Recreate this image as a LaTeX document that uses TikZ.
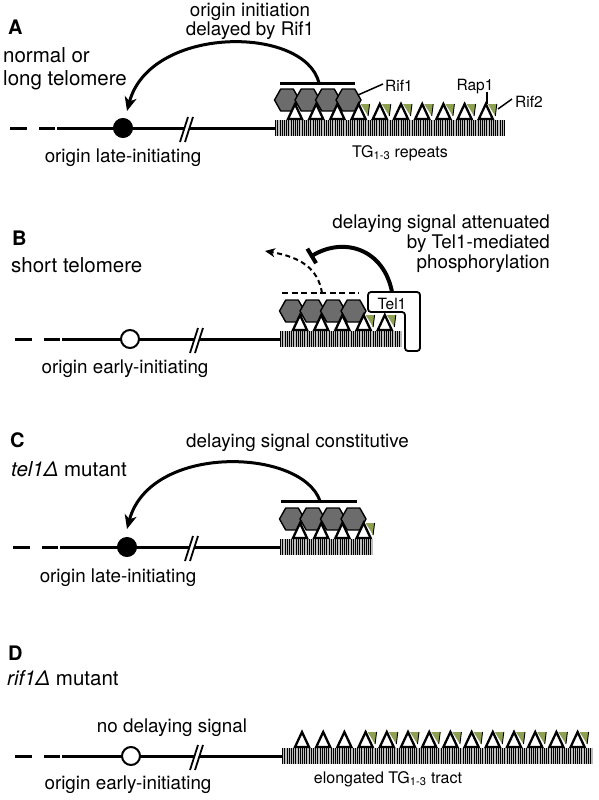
\documentclass[tikz,border=0pt]{standalone}
\usepackage{fontspec}
\setmainfont{TeX Gyre Heros}
\usetikzlibrary{arrows.meta}
\definecolor{hexgray}{RGB}{108,108,108}
\definecolor{rifgreen}{RGB}{142,160,82}
\definecolor{barbg}{RGB}{190,190,190}
\newcommand{\mainsz}{\fontsize{18.8}{22}\selectfont}
\newcommand{\subsz}{\fontsize{20.5}{24}\selectfont}
\newcommand{\smallsz}{\fontsize{15.5}{18}\selectfont}
\newcommand{\tgsz}{\fontsize{16}{19}\selectfont}
\newcommand{\panelsz}{\fontsize{20}{24}\selectfont\bfseries}
% one hexagon (Rif1)
\newcommand{\hexcell}[2]{\draw[hexcellst] (#1-12.5,#2) -- (#1-6.3,#2-11) -- (#1+6.3,#2-11) -- (#1+12.5,#2) -- (#1+6.3,#2+11) -- (#1-6.3,#2+11) -- cycle;}
% row of hexagons: x0 of bar, y centre, count
\newcommand{\hexrow}[3]{\foreach \h in {1,...,#3}{\pgfmathsetmacro\hx{#1+12+(\h-1)*20.5}\hexcell{\hx}{#2}}}
% Rap1 triangle: apex x, base y
\newcommand{\raptri}[2]{\draw[rapst] (#1,#2-15) -- (#1+7,#2) -- (#1-7,#2) -- cycle;}
% Rif2 wedge: apex x of Rap1, base y
\newcommand{\riftwo}[2]{\fill[rif2st] (#1+2,#2-15) -- (#1+11,#2-15) -- (#1+9.5,#2-3) -- cycle;
  \draw[line width=0.9pt] (#1+11,#2-15) -- (#1+9.5,#2-3);}
% repeats bar: x0, chrom y, length
\newcommand{\repeatsbar}[5]{%
  \fill[barbg] (#1,#2-8) rectangle (#1+#3,#2+8);
  \pgfmathtruncatemacro\nl{(#3-1.2)/2.2}
  \foreach \k in {0,...,\nl} \draw[hatch] (#1+0.6+\k*2.2,#2-8) -- (#1+0.6+\k*2.2,#2+8);
}
\newcommand{\rapset}[4]{% x0, chrom y, n, first green
  \foreach \t in {1,...,#3}{\pgfmathsetmacro\tx{#1+20+(\t-1)*21.2}
    \ifnum\t<#4\relax\else\riftwo{\tx}{#2-9}\fi
    \raptri{\tx}{#2-9}}}
% chromosome: y, x shift, break x, end x
\newcommand{\chromo}[4]{%
  \draw[chrom] (#2+15,#1) -- (#2+32,#1);
  \draw[chrom] (#2+44,#1) -- (#2+60,#1);
  \draw[chrom] (#2+62,#1) -- (#4,#1);
  \fill[white] (#3-7,#1+14) -- (#3+1,#1-11) -- (#3+6,#1-11) -- (#3-2,#1+14) -- cycle;
  \draw[brkline] (#3-7,#1+14) -- (#3+1,#1-11);
  \draw[brkline] (#3-2,#1+14) -- (#3+6,#1-11);}
\begin{document}
\begin{tikzpicture}[x=1pt,y=-1pt,
  chrom/.style={line width=3pt},
  brkline/.style={line width=1.8pt},
  hexcellst/.style={fill=hexgray,draw=black,line width=1.4pt,line join=round},
  rapst/.style={fill=white,draw=black,line width=2.3pt,line join=miter},
  rif2st/.style={fill=rifgreen},
  hatch/.style={line width=0.7pt,black},
  sigbar/.style={line width=3pt},
  sig/.style={line width=3pt,-{Stealth[length=14pt,width=12pt,inset=4pt]}},
  sigdash/.style={line width=2pt,dash pattern=on 5pt off 3.5pt,-{Stealth[length=10pt,width=9pt,inset=3pt]}},
  block/.style={line width=4pt,-{Bar[width=17pt]}},
  late/.style={circle,fill=black,draw=black,line width=1pt,minimum size=19pt,inner sep=0pt},
  early/.style={circle,fill=white,draw=black,line width=2pt,minimum size=18pt,inner sep=0pt},
  telbox/.style={draw=black,fill=white,line width=1.8pt,rounded corners=3pt},
  lbl/.style={font=\mainsz,inner sep=0pt},
  sub/.style={font=\subsz,inner sep=0pt,anchor=base west},
  small/.style={font=\smallsz,inner sep=0pt},
  tg/.style={font=\tgsz,inner sep=0pt,anchor=base},
  panel/.style={font=\panelsz,inner sep=0pt,anchor=base west},
  leader/.style={line width=1.5pt}]
\useasboundingbox (0,0) rectangle (598,800);

% ================= A =================
\node[panel] (pA) at (8,35) {A};
\node[sub] (sA1) at (3,63) {normal or};
\node[sub] (sA2) at (3,85) {long telomere};
\node[lbl,anchor=base] (tA1) at (250,17) {origin initiation};
\node[lbl,anchor=base] (tA2) at (250,36) {delayed by Rif1};
\chromo{128}{-5}{187}{276}
\node[late] (oA) at (123,128) {};
\node[lbl,anchor=base] (oAt) at (123,162) {origin late-initiating};
\repeatsbar{275}{128}{230}{10}{4}
\hexrow{275}{100}{4}
\rapset{275}{128}{10}{4}
\coordinate (bA1) at (280,83);
\coordinate (bA2) at (355,83);
\draw[sigbar] (bA1) -- (bA2);
\coordinate (sA) at (319,83);
\coordinate (tipA) at (127,111);
\draw[sig] (sA) .. controls (305,25) and (150,25) .. (tipA);
\node[small,anchor=base west] (rif1) at (385,91) {Rif1};
\coordinate (r1a) at (358,95);
\coordinate (r1b) at (383,84);
\draw[leader] (r1a) -- (r1b);
\node[small,anchor=base] (rap1) at (475,90) {Rap1};
\coordinate (ra1) at (487,92);
\coordinate (ra2) at (487,104);
\draw[leader] (ra1) -- (ra2);
\node[small,anchor=base west] (rif2) at (515,107) {Rif2};
\coordinate (rf1) at (498,109);
\coordinate (rf2) at (512,99);
\draw[leader] (rf1) -- (rf2);
\node[tg] (tgA) at (400,157) {TG\textsubscript{1-3} repeats};

% ================= B =================
\node[panel] (pB) at (12,245) {B};
\node[sub] (sB1) at (11,272) {short telomere};
\node[lbl,anchor=base east] (tB1) at (550,228) {delaying signal attenuated};
\node[lbl,anchor=base east] (tB2) at (550,248) {by Tel1-mediated};
\node[lbl,anchor=base east] (tB3) at (550,268) {phosphorylation};
\chromo{339}{0}{197}{281}
\node[early] (oB) at (130,339) {};
\node[lbl,anchor=base] (oBt) at (125,373) {origin early-initiating};
\repeatsbar{280}{339}{122}{5}{4}
\hexrow{280}{311}{4}
\rapset{280}{339}{5}{4}
\coordinate (bB1) at (282,293);
\coordinate (bB2) at (359,293);
\draw[line width=2.2pt,dash pattern=on 6pt off 3.5pt] (bB1) -- (bB2);
\coordinate (sB) at (322,293);
\coordinate (tipB) at (265,251);
\draw[sigdash] (sB) .. controls (318,268) and (300,257) .. (tipB);
\draw[telbox] (368,292) -- (420,292) -- (420,351) -- (405,351) -- (405,312) -- (368,312) -- cycle;
\node[small] (tel1) at (392,304) {Tel1};
\coordinate (sT) at (392,292);
\coordinate (tipT) at (310,257);
\draw[block] (sT) .. controls (384,250) and (345,236) .. (tipT);

% ================= C =================
\node[panel] (pC) at (10,447) {C};
\node[sub] (sC1) at (11,476) {{\itshape tel1Δ} mutant};
\node[lbl,anchor=base west] (tC) at (186,447) {delaying signal constitutive};
\chromo{547}{-2}{192}{281}
\node[late] (oC) at (127,547) {};
\node[lbl,anchor=base] (oCt) at (118,582) {origin late-initiating};
\repeatsbar{280}{547}{93}{4}{4}
\hexrow{280}{519}{4}
\rapset{280}{547}{4}{4}
\coordinate (bC1) at (281,501);
\coordinate (bC2) at (357,501);
\draw[sigbar] (bC1) -- (bC2);
\coordinate (sC) at (320,501);
\coordinate (tipC) at (127,529);
\draw[sig] (sC) .. controls (302,448) and (150,443) .. (tipC);

% ================= D =================
\node[panel] (pD) at (8,660) {D};
\node[sub] (sD1) at (7,685) {{\itshape rif1Δ} mutant};
\chromo{756}{0}{197}{283}
\node[early] (oD) at (131,756) {};
\node[lbl,anchor=base] (nD) at (172,732) {no delaying signal};
\node[lbl,anchor=base] (oDt) at (128,789) {origin early-initiating};
\repeatsbar{282}{756}{311}{14}{4}
\rapset{282}{756}{14}{4}
\node[tg] (tgD) at (388,783) {elongated TG\textsubscript{1-3} tract};
\end{tikzpicture}
\end{document}
